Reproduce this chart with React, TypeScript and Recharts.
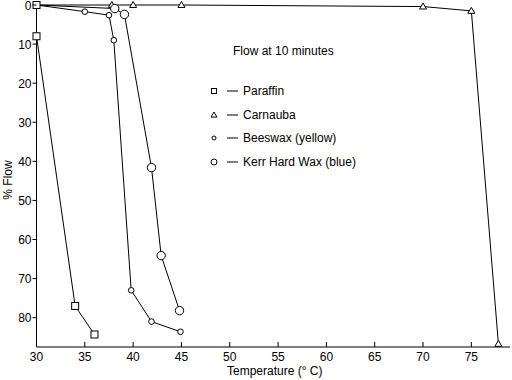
import React from 'react';
import { LineChart, Line, XAxis, YAxis } from 'recharts';

// Flow at 10 minutes: temperature (°C) vs % flow
const paraffin = [
  { t: 30, flow: 0 },
  { t: 30, flow: 8 },
  { t: 34, flow: 77 },
  { t: 36, flow: 84.3 },
];
const carnauba = [
  { t: 30, flow: 0 },
  { t: 37.8, flow: 0 },
  { t: 40, flow: 0 },
  { t: 45, flow: 0 },
  { t: 70, flow: 0.4 },
  { t: 75, flow: 1.5 },
  { t: 77.8, flow: 86.7 },
];
const beeswax = [
  { t: 30, flow: 0 },
  { t: 35, flow: 1.7 },
  { t: 37.5, flow: 2.6 },
  { t: 38, flow: 9 },
  { t: 39.8, flow: 73 },
  { t: 41.9, flow: 81 },
  { t: 44.9, flow: 83.6 },
];
const kerr = [
  { t: 30, flow: 0 },
  { t: 38.1, flow: 0.9 },
  { t: 39.1, flow: 2.4 },
  { t: 41.9, flow: 41.6 },
  { t: 42.9, flow: 64.1 },
  { t: 44.8, flow: 78.2 },
];

const xTicks = [30, 35, 40, 45, 50, 55, 60, 65, 70, 75];
const yTicks = [0, 10, 20, 30, 40, 50, 60, 70, 80];
const legendNames = ['Paraffin', 'Carnauba', 'Beeswax (yellow)', 'Kerr Hard Wax (blue)'];

const font = '"Liberation Sans", Arial, Helvetica, sans-serif';

const Square = (props: any) => {
  const { cx, cy, s = 3.5 } = props;
  return <rect x={cx - s} y={cy - s} width={2 * s} height={2 * s} fill="#fff" stroke="#000" strokeWidth={1} />;
};
const Triangle = (props: any) => {
  const { cx, cy, s = 3.5, index } = props;
  if (index === 0) return <g />;
  return (
    <path d={`M${cx},${cy - s} L${cx + s},${cy + s * 0.7} L${cx - s},${cy + s * 0.7} Z`} fill="#fff" stroke="#000" strokeWidth={1} />
  );
};
const SmallCircle = (props: any) =>
  props.index === 0 ? <g /> : <circle cx={props.cx} cy={props.cy} r={props.s ?? 2.8} fill="#fff" stroke="#000" strokeWidth={1} />;
const BigCircle = (props: any) =>
  props.index === 0 ? <g /> : <circle cx={props.cx} cy={props.cy} r={props.s ?? 4.2} fill="#fff" stroke="#000" strokeWidth={1} />;

const XTick = (props: any) => {
  const { x, y, payload } = props;
  return (
    <g>
      <line x1={x} y1={y} x2={x} y2={y - 5} stroke="#000" />
      <text x={x} y={y + 14} textAnchor="middle" fontSize={12} fontFamily={font} fill="#000">
        {payload.value}
      </text>
    </g>
  );
};
const YTick = (props: any) => {
  const { x, y, payload } = props;
  return (
    <g>
      <line x1={x} y1={y} x2={x - 4} y2={y} stroke="#000" />
      <text x={x - 5} y={y + 4.5} textAnchor="end" fontSize={12} fontFamily={font} fill="#000">
        {payload.value}
      </text>
    </g>
  );
};

const markers = [Square, Triangle, SmallCircle, BigCircle];
const legendSizes = [2.5, 3, 2, 3];

export default function App() {
  return (
    <div style={{ position: 'absolute', left: 0, top: 0, width: 512, height: 380, background: '#fff', fontFamily: font }}>
      <LineChart width={512} height={380} margin={{ top: 5, right: 2, bottom: 0, left: 0 }}>
        <XAxis
          type="number"
          dataKey="t"
          domain={[30, 79]}
          ticks={xTicks}
          interval={0}
          tickLine={false}
          tickSize={0}
          tickMargin={0}
          tick={<XTick />}
          height={33}
          stroke="#000"
        />
        <YAxis
          type="number"
          dataKey="flow"
          reversed
          domain={[0, 87.5]}
          ticks={yTicks}
          interval={0}
          tickLine={false}
          tickSize={0}
          tickMargin={0}
          tick={<YTick />}
          width={36.5}
          stroke="#000"
        />
        <Line data={carnauba} dataKey="flow" stroke="#000" strokeWidth={1} dot={<Triangle />} isAnimationActive={false} />
        <Line data={kerr} dataKey="flow" stroke="#000" strokeWidth={1} dot={<BigCircle />} isAnimationActive={false} />
        <Line data={beeswax} dataKey="flow" stroke="#000" strokeWidth={1} dot={<SmallCircle />} isAnimationActive={false} />
        <Line data={paraffin} dataKey="flow" stroke="#000" strokeWidth={1} dot={<Square />} isAnimationActive={false} />
      </LineChart>
      <div style={{ position: 'absolute', left: 227, top: 364, fontSize: 12, color: '#000', whiteSpace: 'nowrap' }}>
        Temperature (° C)
      </div>
      <div
        style={{
          position: 'absolute',
          left: 8,
          top: 180,
          fontSize: 12,
          color: '#000',
          whiteSpace: 'nowrap',
          transform: 'translate(-50%, -50%) rotate(-90deg)',
        }}
      >
        % Flow
      </div>
      <div style={{ position: 'absolute', left: 233, top: 44, fontSize: 12, color: '#000', whiteSpace: 'nowrap' }}>
        Flow at 10 minutes
      </div>
      {legendNames.map((name, i) => {
        const M = markers[i];
        const top = 83 + i * 23.5;
        return (
          <div key={name} style={{ position: 'absolute', left: 207, top, height: 16, display: 'flex', alignItems: 'center', whiteSpace: 'nowrap', fontSize: 12 }}>
            <svg width={36} height={16} style={{ display: 'block' }}>
              <M cx={7} cy={8} s={legendSizes[i]} index={1} />
              <line x1={20} y1={8} x2={31} y2={8} stroke="#000" />
            </svg>
            <span>{name}</span>
          </div>
        );
      })}
    </div>
  );
}
